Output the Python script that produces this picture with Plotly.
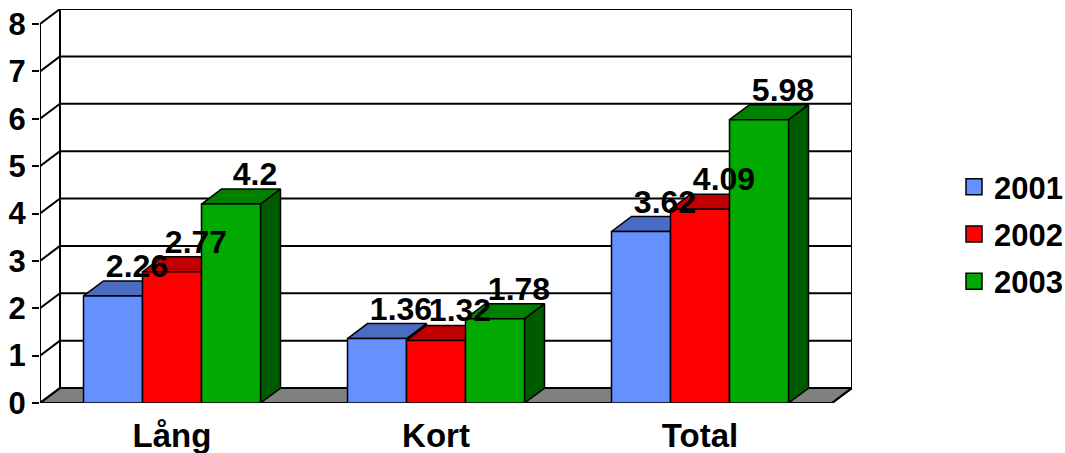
import plotly.graph_objects as go

# ---- data ----
categories = ["Lång", "Kort", "Total"]
series_names = ["2001", "2002", "2003"]
values_2001 = [2.26, 1.36, 3.62]
values_2002 = [2.77, 1.32, 4.09]
values_2003 = [4.2, 1.78, 5.98]
y_ticks = [0, 1, 2, 3, 4, 5, 6, 7, 8]

series_values = [values_2001, values_2002, values_2003]
front_colors = ["#6690FF", "#FF0000", "#00AA00"]
top_colors = ["#4A6CC2", "#C00000", "#008000"]
side_colors = ["#3A55A0", "#900000", "#005A00"]

# ---- layout geometry ----
W, H = 1065, 453
L, R, T, B = 40, 213, 9, 50
DEPTH_X_PX, DEPTH_Y_PX = 20, 15
plot_w = W - L - R
plot_h = H - T - B
ncat = len(categories)
ymax = max(y_ticks)
x_ppu = (plot_w - DEPTH_X_PX) / ncat
y_ppu = (plot_h - DEPTH_Y_PX) / ymax
dxu = DEPTH_X_PX / x_ppu
dyu = DEPTH_Y_PX / y_ppu
bar_w = 59 / x_ppu
group_start = 0.5 - bar_w * len(series_names) / 2

FONT = "Liberation Sans, Arial, sans-serif"

fig = go.Figure()

# floor
fig.add_trace(go.Scatter(
    x=[0, ncat, ncat + dxu, dxu, 0], y=[0, 0, dyu, dyu, 0],
    mode="lines", fill="toself", fillcolor="#808080",
    line=dict(color="black", width=2), showlegend=False, hoverinfo="skip",
    cliponaxis=False))

# walls / gridlines
lx, ly = [], []
def seg(x0, y0, x1, y1):
    lx.extend([x0, x1, None]); ly.extend([y0, y1, None])
for k in y_ticks:
    seg(dxu, k + dyu, ncat + dxu, k + dyu)
    seg(0, k, dxu, k + dyu)
seg(dxu, dyu, dxu, ymax + dyu)
seg(ncat + dxu, dyu, ncat + dxu, ymax + dyu)
seg(0, 0, 0, ymax)
seg(0, 0, ncat, 0)
seg(ncat, 0, ncat + dxu, dyu)
tick_len = 7 / y_ppu
for k in range(ncat + 1):
    seg(k, 0, k, -tick_len)
fig.add_trace(go.Scatter(x=lx, y=ly, mode="lines", line=dict(color="black", width=2),
                         showlegend=False, hoverinfo="skip", cliponaxis=False))

# bars (pseudo-3D), drawn left to right
lab_x, lab_y, lab_t = [], [], []
for ci in range(ncat):
    for si, vals in enumerate(series_values):
        v = vals[ci]
        x0 = ci + group_start + si * bar_w
        x1 = x0 + bar_w
        # side
        fig.add_trace(go.Scatter(
            x=[x1, x1 + dxu, x1 + dxu, x1, x1], y=[0, dyu, v + dyu, v, 0],
            mode="lines", fill="toself", fillcolor=side_colors[si],
            line=dict(color="black", width=1.5), showlegend=False, hoverinfo="skip"))
        # top
        fig.add_trace(go.Scatter(
            x=[x0, x1, x1 + dxu, x0 + dxu, x0], y=[v, v, v + dyu, v + dyu, v],
            mode="lines", fill="toself", fillcolor=top_colors[si],
            line=dict(color="black", width=1.5), showlegend=False, hoverinfo="skip"))
        # front
        fig.add_trace(go.Scatter(
            x=[x0, x1, x1, x0, x0], y=[0, 0, v, v, 0],
            mode="lines", fill="toself", fillcolor=front_colors[si],
            line=dict(color="black", width=1.5), showlegend=False,
            name=series_names[si], hovertemplate="%{text}", text=[f"{categories[ci]}: {v}"] * 5))
        lab_x.append((x0 + x1) / 2 + 24 / x_ppu)
        lab_y.append(v + dyu - 4 / y_ppu)
        lab_t.append(f"{v:g}")

fig.add_trace(go.Scatter(x=lab_x, y=lab_y, text=lab_t, mode="text", textposition="top center",
                         textfont=dict(family=FONT, size=32, color="black", weight="bold"),
                         showlegend=False, hoverinfo="skip", cliponaxis=False))

# legend entries
for si, name in enumerate(series_names):
    fig.add_trace(go.Scatter(
        x=[None], y=[None], mode="markers", name=name, legendgroup=name,
        marker=dict(symbol="square", size=16, color=front_colors[si],
                    line=dict(color="black", width=1.5))))

fig.update_layout(
    width=W, height=H,
    margin=dict(l=L, r=R, t=T, b=B, pad=0, autoexpand=False),
    paper_bgcolor="white", plot_bgcolor="white",
    font=dict(family=FONT, color="black"),
    xaxis=dict(range=[0, ncat + dxu], tickvals=[i + 0.5 for i in range(ncat)],
               ticktext=categories, showgrid=False, zeroline=False, showline=False,
               ticks="", tickfont=dict(family=FONT, size=33, weight="bold"),
               ticklabelstandoff=10, fixedrange=True, automargin=False),
    yaxis=dict(range=[0, ymax + dyu], tickvals=y_ticks, showgrid=False, zeroline=False,
               showline=False, ticks="outside", ticklen=7, tickwidth=2, tickcolor="black",
               tickfont=dict(family=FONT, size=31, weight="bold"), fixedrange=True,
               automargin=False),
    legend=dict(x=(954 - L) / plot_w, xanchor="left", y=(403 - 234) / plot_h, yanchor="middle",
                font=dict(family=FONT, size=31, weight="bold"), tracegroupgap=4,
                bgcolor="rgba(0,0,0,0)"),
    showlegend=True,
)

fig.write_html("out.html", config={"displayModeBar": False},
               post_script="document.body.style.margin='0';document.body.style.overflow='hidden';")
